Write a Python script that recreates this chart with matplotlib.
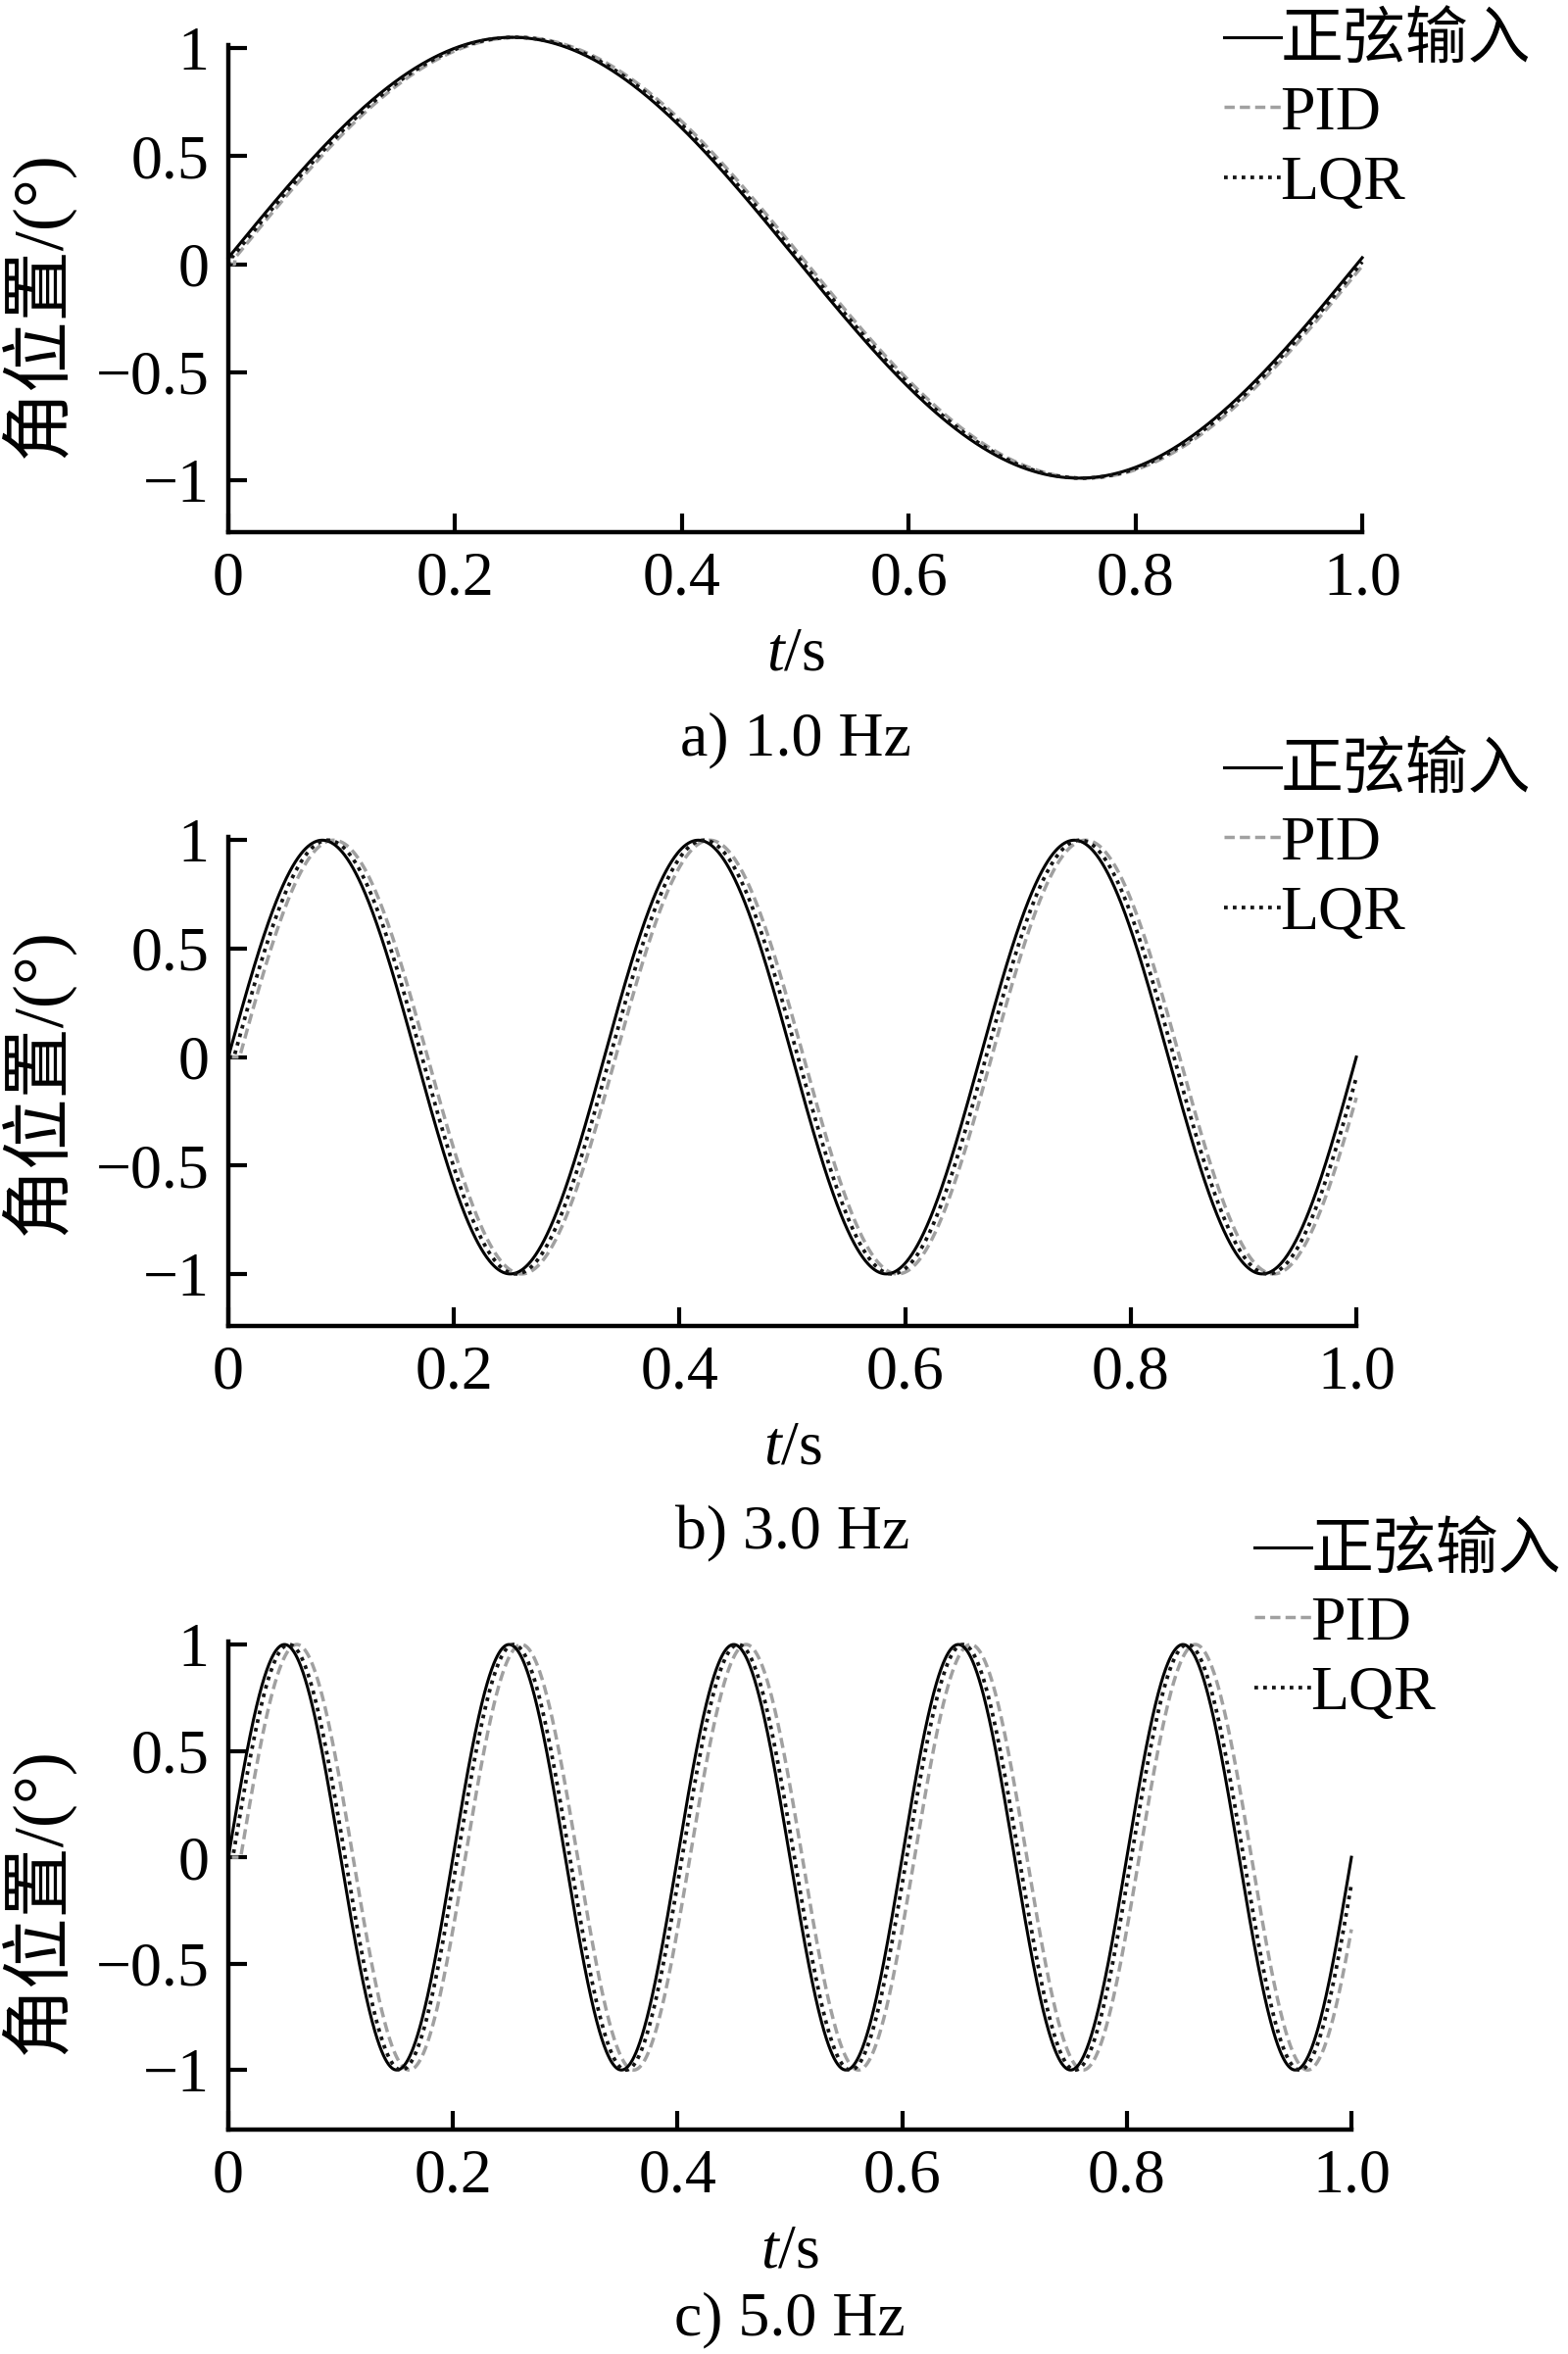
import numpy as np
import matplotlib
matplotlib.use("Agg")
import matplotlib.pyplot as plt

plt.rcParams['font.family'] = ['Liberation Serif', 'Noto Sans CJK SC']
plt.rcParams['mathtext.fontset'] = 'custom'
plt.rcParams['mathtext.rm'] = 'Liberation Serif'
plt.rcParams['mathtext.it'] = 'Liberation Serif:italic'
plt.rcParams['axes.unicode_minus'] = True

# values
freqs_hz = [1.0, 3.0, 5.0]
captions = ['a) 1.0 Hz', 'b) 3.0 Hz', 'c) 5.0 Hz']
amplitude = [1.02, 1.0, 1.0]
offset = [0.03, 0.0, 0.0]
pid_lag_s = [0.006, 0.010, 0.011]
lqr_lag_s = [0.003, 0.005, 0.004]
series_names = ['正弦输入', 'PID', 'LQR']

xticks = [0, 0.2, 0.4, 0.6, 0.8, 1.0]
xtick_labels = ['0', '0.2', '0.4', '0.6', '0.8', '1.0']
yticks = [-1, -0.5, 0, 0.5, 1]
ytick_labels = ['\u22121', '\u22120.5', '0', '0.5', '1']

W, H = 1600, 2402
fig = plt.figure(figsize=(W / 100, H / 100), dpi=100)

# layout in pixels: (right edge, top, bottom, ylim bottom, ylim top)
boxes = [(1390, 46, 543, -1.24, 1.014),
         (1384, 854, 1353, -1.24, 1.015),
         (1379, 1675, 2173, -1.28, 1.014)]
legend_pos = [(1249, 15), (1249, 760), (1280, 1556)]
ylabel_y = [310, 1103, 1939]
caption_dy = [212, 212, 194]
fs = 46

t = np.linspace(0, 1.0, 2001)


def response(i, lag):
    y = offset[i] + amplitude[i] * np.sin(2 * np.pi * freqs_hz[i] * (t - lag))
    return np.where(t >= lag, y, 0)


for i, f in enumerate(freqs_hz):
    x1, ytop, ybot, ylo, yhi = boxes[i]
    ax = fig.add_axes([233 / W, 1 - ybot / H, (x1 - 233) / W, (ybot - ytop) / H])

    ref = offset[i] + amplitude[i] * np.sin(2 * np.pi * f * t)
    pid = response(i, pid_lag_s[i])
    lqr = response(i, lqr_lag_s[i])

    ax.plot(t, pid, color='#a0a0a0', lw=2.5, dashes=(3, 1.5), label=series_names[1], clip_on=False)
    ax.plot(t, ref, color='black', lw=2.2, label=series_names[0], clip_on=False)
    ax.plot(t, lqr, color='#151515', lw=2.7, dashes=(1, 1.4), label=series_names[2], clip_on=False)

    ax.set_xlim(0, 1.0)
    ax.set_ylim(ylo, yhi)
    ax.set_xticks(xticks)
    ax.set_xticklabels(xtick_labels)
    ax.set_yticks(yticks)
    ax.set_yticklabels(ytick_labels)
    for s in ['top', 'right']:
        ax.spines[s].set_visible(False)
    for s in ['left', 'bottom']:
        ax.spines[s].set_linewidth(3.2)
    ax.tick_params(direction='in', length=14, width=3, labelsize=fs, pad=14)

    fig.text(38 / W, 1 - ylabel_y[i] / H, '角位置/(°)', fontsize=52,
             rotation=90, ha='center', va='center')

    cx = (233 + x1) / 2 / W
    fig.text(cx, 1 - (ybot + 125) / H, r'$t$/s', fontsize=fs, ha='center', va='center')
    fig.text(cx, 1 - (ybot + caption_dy[i]) / H, captions[i], fontsize=fs,
             ha='center', va='center')

    handles, labels = ax.get_legend_handles_labels()
    order = [1, 0, 2]
    lx, ly = legend_pos[i]
    ax.legend([handles[k] for k in order], [labels[k] for k in order],
              loc='upper left', bbox_to_anchor=(lx / W, 1 - ly / H),
              bbox_transform=fig.transFigure, frameon=False, fontsize=fs,
              handlelength=0.9, handletextpad=0.0, labelspacing=0.2,
              borderpad=0, borderaxespad=0)

fig.savefig('out.png', dpi=100)
